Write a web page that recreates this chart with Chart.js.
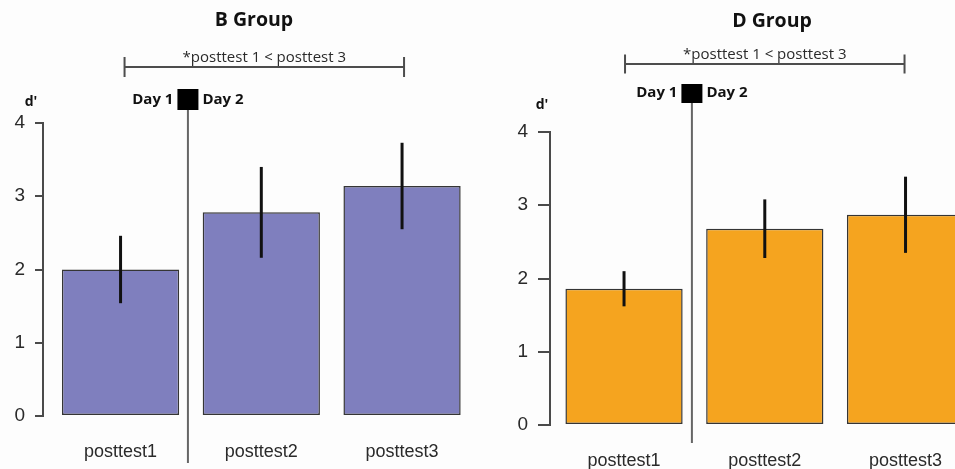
<!DOCTYPE html>
<html>
<head>
<meta charset="utf-8">
<script src="https://cdn.jsdelivr.net/npm/chart.js@4.4.1/dist/chart.umd.min.js"></script>
<style>
  html, body { margin: 0; padding: 0; background: #fdfdfd; width: 955px; height: 469px; overflow: hidden; }
  canvas { position: absolute; top: 0; }
  #chartB { left: 0; }
  #chartD { left: 505px; }
</style>
</head>
<body>
<canvas id="chartB" width="480" height="469"></canvas>
<canvas id="chartD" width="450" height="469"></canvas>
<script>
// d' per test session, with error bar half-lengths
const categories = ['posttest1', 'posttest2', 'posttest3'];
const bMeans  = [2.00, 2.78, 3.14];
const bErrors = [0.46, 0.62, 0.59];
const dMeans  = [1.86, 2.68, 2.87];
const dErrors = [0.24, 0.40, 0.52];
const yTicks  = [0, 1, 2, 3, 4];

const AXIS_FONT = 'Liberation Sans, Arial, sans-serif';
const NOTE_FONT = 'Open Sans, Noto Sans, sans-serif';

// Error bars, comparison bracket, Day 1 / Day 2 divider and titles
const panelDecor = {
  id: 'panelDecor',
  afterDatasetsDraw(chart, args, o) {
    const ctx = chart.ctx;
    const y = chart.scales.y;
    const ds = chart.data.datasets[0];
    const bars = chart.getDatasetMeta(0).data;
    ctx.save();
    ctx.strokeStyle = '#111';
    ctx.lineWidth = 3;
    ds.data.forEach((pt, i) => {
      const e = ds.errors[i];
      ctx.beginPath();
      ctx.moveTo(bars[i].x, y.getPixelForValue(pt.y + e));
      ctx.lineTo(bars[i].x, y.getPixelForValue(pt.y - e));
      ctx.stroke();
    });
    ctx.restore();
  },
  afterDraw(chart, args, o) {
    const ctx = chart.ctx;
    const bars = chart.getDatasetMeta(0).data;
    ctx.save();

    // title
    ctx.fillStyle = '#111';
    ctx.font = 'bold 19.5px ' + NOTE_FONT;
    ctx.textAlign = 'center';
    ctx.textBaseline = 'alphabetic';
    ctx.fillText(o.title, o.titleX, o.titleBaseline);

    // bracket from the first to the last bar
    const bx0 = bars[0].x + o.bracketInset[0];
    const bx1 = bars[bars.length - 1].x + o.bracketInset[1];
    ctx.strokeStyle = '#4d4d4d';
    ctx.lineWidth = 2;
    ctx.beginPath();
    ctx.moveTo(bx0, o.bracketY); ctx.lineTo(bx1, o.bracketY);
    ctx.moveTo(bx0, o.bracketY - o.bracketTick); ctx.lineTo(bx0, o.bracketY + o.bracketTick);
    ctx.moveTo(bx1, o.bracketY - o.bracketTick); ctx.lineTo(bx1, o.bracketY + o.bracketTick);
    ctx.stroke();
    ctx.fillStyle = '#2a2a2a';
    ctx.font = '15px ' + NOTE_FONT;
    ctx.fillText(o.note, (bx0 + bx1) / 2, o.noteBaseline);

    // session divider between the first and second test
    const dx = chart.scales.x.getPixelForValue(0.5) + o.dividerShift;
    ctx.strokeStyle = '#666';
    ctx.lineWidth = 2;
    ctx.beginPath();
    ctx.moveTo(dx, o.squareTop + o.squareH);
    ctx.lineTo(dx, o.dividerBottom);
    ctx.stroke();
    ctx.fillStyle = '#000';
    ctx.fillRect(dx - o.squareW / 2, o.squareTop, o.squareW, o.squareH);

    ctx.font = 'bold 15px ' + NOTE_FONT;
    ctx.fillStyle = '#111';
    ctx.textBaseline = 'middle';
    ctx.textAlign = 'right';
    ctx.fillText('Day 1', dx - o.squareW / 2 - 4, o.dayY);
    ctx.textAlign = 'left';
    ctx.fillText('Day 2', dx + o.squareW / 2 + 4, o.dayY);

    // y axis name
    ctx.textAlign = 'center';
    ctx.font = 'bold 14px ' + NOTE_FONT;
    ctx.fillText("d'", o.dLabelX, o.dLabelY);
    ctx.restore();
  }
};

const PX_PER_SLOT = 140.75;

function buildPanel(canvasId, means, errors, color, p) {
  const canvas = document.getElementById(canvasId);
  const xMin = p.xMin;
  const xMax = xMin + (canvas.width - p.axisX) / PX_PER_SLOT;
  return new Chart(canvas, {
    type: 'bar',
    data: {
      datasets: [{
        data: categories.map((c, i) => ({ x: i, y: means[i] })),
        errors: errors,
        backgroundColor: color,
        borderColor: '#353535',
        borderWidth: 1.5,
        borderSkipped: false,
        categoryPercentage: 1,
        barPercentage: 0.833,
        clip: false
      }]
    },
    options: {
      responsive: false,
      animation: false,
      devicePixelRatio: 1,
      layout: { padding: { top: p.plotTop, left: 0, right: 0, bottom: 0 } },
      plugins: {
        legend: { display: false },
        tooltip: { enabled: false },
        title: { display: false },
        panelDecor: p.decor
      },
      scales: {
        x: {
          type: 'linear',
          min: xMin,
          max: xMax,
          offset: false,
          afterBuildTicks: s => { s.ticks = categories.map((c, i) => ({ value: i })); },
          afterFit: s => {
            s.height = canvas.height - p.plotBottom;
            s.paddingLeft = 0;
            s.paddingRight = 0;
          },
          ticks: {
            autoSkip: false,
            maxRotation: 0,
            callback: (v, i) => categories[i],
            font: { family: AXIS_FONT, size: 18 },
            color: '#2a2a2a',
            padding: 25
          },
          grid: { display: false, drawTicks: false },
          border: { display: false }
        },
        y: {
          min: 0,
          max: 4,
          afterBuildTicks: s => { s.ticks = yTicks.map(v => ({ value: v })); },
          afterFit: s => { s.width = p.axisX; },
          ticks: {
            font: { family: AXIS_FONT, size: 19 },
            color: '#2a2a2a',
            padding: 10
          },
          grid: { drawOnChartArea: false, drawTicks: true, tickLength: p.tickLen, color: '#4a4a4a', lineWidth: 2 },
          border: { display: true, color: '#4a4a4a', width: 2 }
        }
      }
    },
    plugins: [panelDecor]
  });
}

buildPanel('chartB', bMeans, bErrors, '#7f7fbe', {
  axisX: 43, xMin: -0.551, plotTop: 123, plotBottom: 416, tickLen: 8,
  decor: {
    title: 'B Group', titleX: 254, titleBaseline: 26,
    note: '*posttest 1 < posttest 3', noteBaseline: 61.5,
    bracketY: 67, bracketTick: 10, bracketInset: [4, 2],
    dividerShift: -3, dividerBottom: 463,
    squareTop: 89, squareW: 21, squareH: 21, dayY: 100,
    dLabelX: 31, dLabelY: 102
  }
});

buildPanel('chartD', dMeans, dErrors, '#f5a41f', {
  axisX: 45, xMin: -0.526, plotTop: 132, plotBottom: 425, tickLen: 12,
  decor: {
    title: 'D Group', titleX: 267, titleBaseline: 26.5,
    note: '*posttest 1 < posttest 3', noteBaseline: 58.5,
    bracketY: 64, bracketTick: 9.5, bracketInset: [1, -1],
    dividerShift: -2.5, dividerBottom: 443,
    squareTop: 84, squareW: 21, squareH: 19, dayY: 93,
    dLabelX: 37, dLabelY: 105
  }
});
</script>
</body>
</html>
